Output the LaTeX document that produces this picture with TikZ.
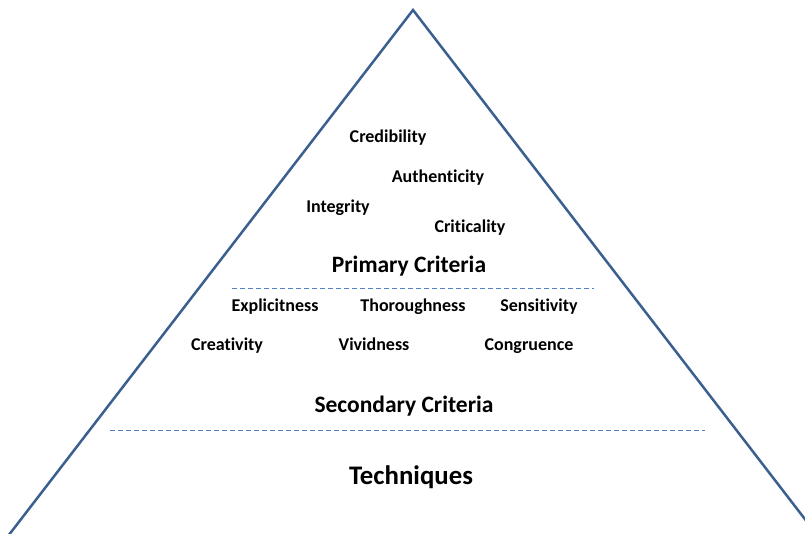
\documentclass[tikz,border=0pt]{standalone}
\usepackage{fontspec}
\setmainfont{Carlito}[Ligatures={NoCommon,NoRequired,NoContextual}]
\begin{document}
\begin{tikzpicture}[x=1pt,y=-1pt,
  lbl/.style={font=\fontsize{18}{20}\selectfont\bfseries, inner sep=0pt, anchor=base},
  hdr/.style={font=\fontsize{23.5}{25}\selectfont\bfseries, inner sep=0pt, anchor=base},
  big/.style={font=\fontsize{26.8}{28}\selectfont\bfseries, inner sep=0pt, anchor=base},
  sep/.style={draw=sepblue, line width=1pt, dash pattern=on 5pt off 3pt}]
\definecolor{triblue}{HTML}{3B5F8E}
\definecolor{sepblue}{HTML}{4F81BD}
\useasboundingbox (0,0) rectangle (805,533);
\clip (0,0) rectangle (805,533);
\coordinate (apex) at (413,10);
\coordinate (bl) at (-5,553);
\coordinate (br) at (831,553);
\draw[triblue, line width=2.5pt, line join=miter] (bl) -- (apex) -- (br);
\node[lbl] (cred) at (388,142) {Credibility};
\node[lbl] (auth) at (438,182) {Authenticity};
\node[lbl] (integ) at (338,212) {Integrity};
\node[lbl] (crit) at (470,232) {Criticality};
\node[hdr] (prim) at (409,272.5) {Primary Criteria};
\coordinate (s1a) at (232,288);
\coordinate (s1b) at (594,288);
\draw[sep] (s1a) -- (s1b);
\node[lbl] (expl) at (275,311) {Explicitness};
\node[lbl] (thor) at (413,311) {Thoroughness};
\node[lbl] (sens) at (539,311) {Sensitivity};
\node[lbl] (creat) at (227,350) {Creativity};
\node[lbl] (vivid) at (374,350) {Vividness};
\node[lbl] (cong) at (529,350) {Congruence};
\node[hdr] (sec) at (404,412.5) {Secondary Criteria};
\coordinate (s2a) at (110,430);
\coordinate (s2b) at (705,430);
\draw[sep] (s2a) -- (s2b);
\node[big] (tech) at (411,484.5) {Techniques};
\end{tikzpicture}
\end{document}
